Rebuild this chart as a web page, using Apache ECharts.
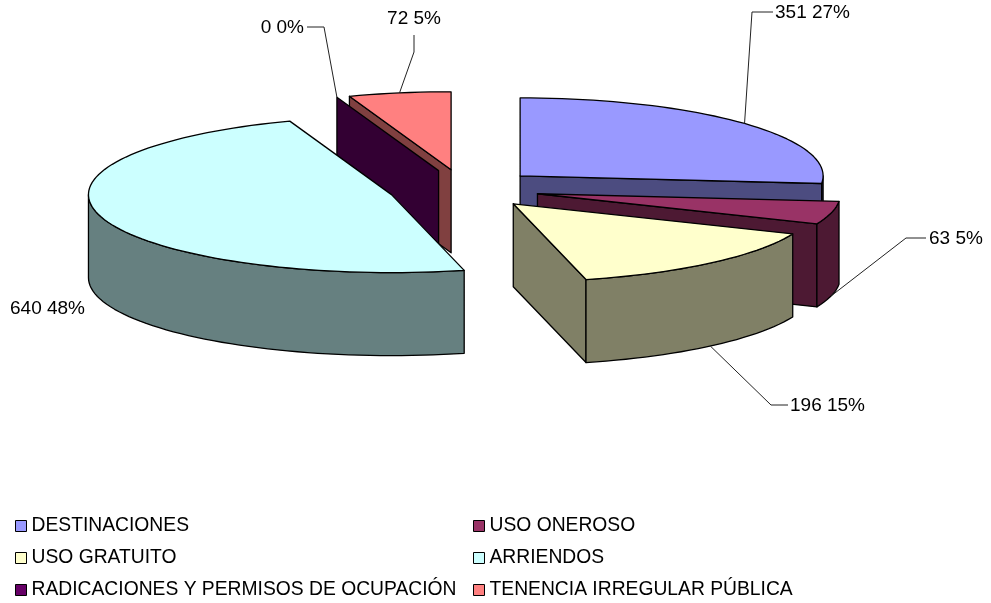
<!DOCTYPE html>
<html>
<head>
<meta charset="utf-8">
<style>
    html, body { margin: 0; padding: 0; background: #fff; }
    #chart { width: 991px; height: 603px; }
</style>
<script src="https://cdn.jsdelivr.net/npm/echarts@6/dist/echarts.min.js"></script>
</head>
<body>
<div id="chart"></div>
<script>
const categories = ['DESTINACIONES', 'USO ONEROSO', 'USO GRATUITO', 'ARRIENDOS', 'RADICACIONES Y PERMISOS DE OCUPACIÓN', 'TENENCIA IRREGULAR PÚBLICA'];
const values = [351, 63, 196, 640, 0, 72];
const topColors = ['#9999ff', '#993366', '#ffffcc', '#ccffff', '#660066', '#ff8080'];
const sideColors = ['#4c4c80', '#4d1933', '#808066', '#668080', '#330033', '#804040'];

// pie projection, an ellipse plus extrusion
const pie = {cx: 464, cy: 189, rx: 303, ry: 78, depth: 83, explode: 0.25};
// elbow of each leader line and where its text sits
const labels = [
    {x: 775, y: 13, align: 'left', path: [[752, 12], [773, 12]]},
    {x: 929, y: 239, align: 'left', path: [[906, 238], [926, 238]], onWall: true},
    {x: 790, y: 406, align: 'left', path: [[771, 405], [788, 405]], onWall: true},
    {x: 10, y: 309, align: 'left', path: null},
    {x: 304, y: 28, align: 'right', path: [[324, 27], [307, 27]]},
    {x: 414, y: 19, align: 'center', path: [[414, 52], [414, 35]]},
];

const total = values.reduce((a, b) => a + b, 0);
const rad = d => d * Math.PI / 180;

// clockwise angles from 12 o'clock
let acc = 0;
const slices = values.map(v => {
    const a0 = acc;
    acc += v / total * 360;
    return {a0: a0, a1: acc, mid: (a0 + acc) / 2};
});

function apexOf(s) {
    return [
        pie.cx + pie.explode * pie.rx * Math.sin(rad(s.mid)),
        pie.cy - pie.explode * pie.ry * Math.cos(rad(s.mid)),
    ];
}

function rimPoint(apex, a, drop) {
    return [apex[0] + pie.rx * Math.sin(rad(a)), apex[1] - pie.ry * Math.cos(rad(a)) + (drop || 0)];
}

function arc(apex, from, to, drop) {
    const pts = [];
    const n = Math.max(1, Math.ceil(Math.abs(to - from) / 2));
    for (let i = 0; i <= n; i++) {
        pts.push(rimPoint(apex, from + (to - from) * i / n, drop));
    }
    return pts;
}

function poly(points, fill) {
    return {
        type: 'polygon',
        shape: {points: points},
        style: {fill: fill, stroke: '#000', lineWidth: 1.3, lineJoin: 'round'},
    };
}

function cutFace(apex, a, fill) {
    const rim = rimPoint(apex, a);
    return poly([apex, rim, [rim[0], rim[1] + pie.depth], [apex[0], apex[1] + pie.depth]], fill);
}

function renderSlice(idx) {
    const s = slices[idx];
    const apex = apexOf(s);
    const children = [];

    // only the faces turned to the viewer
    if (Math.sin(rad(s.a0)) < 0) children.push(cutFace(apex, s.a0, sideColors[idx]));
    if (Math.sin(rad(s.a1)) > 0 && s.a1 > s.a0) children.push(cutFace(apex, s.a1, sideColors[idx]));

    const wallFrom = Math.max(s.a0, 90);
    const wallTo = Math.min(s.a1, 270);
    if (wallTo > wallFrom) {
        const top = arc(apex, wallFrom, wallTo, 0);
        const bottom = arc(apex, wallTo, wallFrom, pie.depth);
        children.push(poly(top.concat(bottom), sideColors[idx]));
    }

    if (s.a1 > s.a0) {
        children.push(poly([apex].concat(arc(apex, s.a0, s.a1, 0)), topColors[idx]));
    }

    const lab = labels[idx];
    if (lab.path) {
        const start = rimPoint(apex, s.mid, lab.onWall ? pie.depth : 0);
        children.push({
            type: 'polyline',
            shape: {points: [start].concat(lab.path)},
            style: {fill: null, stroke: '#222', lineWidth: 1},
        });
    }
    children.push({
        type: 'text',
        style: {
            x: lab.x,
            y: lab.y,
            text: values[idx] + ' ' + Math.round(values[idx] / total * 100) + '%',
            fill: '#000',
            font: '19px "Liberation Sans"',
            align: lab.align,
            verticalAlign: 'middle',
        },
    });
    return {type: 'group', children: children};
}

// back slices first
const paintOrder = slices.map((s, i) => i).sort((a, b) => Math.cos(rad(slices[b].mid)) - Math.cos(rad(slices[a].mid)));

let chart = echarts.init(document.getElementById('chart'));
chart.setOption({
    backgroundColor: '#fff',
    animation: false,
    legend: [
        {categories: [0, 2, 4], left: 15},
        {categories: [1, 3, 5], left: 473},
    ].map(col => ({
        data: col.categories.map(i => categories[i]),
        orient: 'vertical',
        left: col.left,
        top: 516,
        height: 86,
        padding: 0,
        itemWidth: 11,
        itemHeight: 11,
        itemGap: 12,
        icon: 'rect',
        selectedMode: false,
        itemStyle: {borderColor: '#000', borderWidth: 1},
        textStyle: {color: '#000', fontFamily: 'Liberation Sans', fontSize: 19.3, lineHeight: 20, padding: 0},
    })),
    series: categories.map((name, idx) => ({
        type: 'custom',
        name: name,
        coordinateSystem: 'none',
        silent: true,
        z: 2 + paintOrder.indexOf(idx),
        itemStyle: {color: topColors[idx]},
        data: [values[idx]],
        renderItem: () => renderSlice(idx),
    })),
});
</script>
</body>
</html>
